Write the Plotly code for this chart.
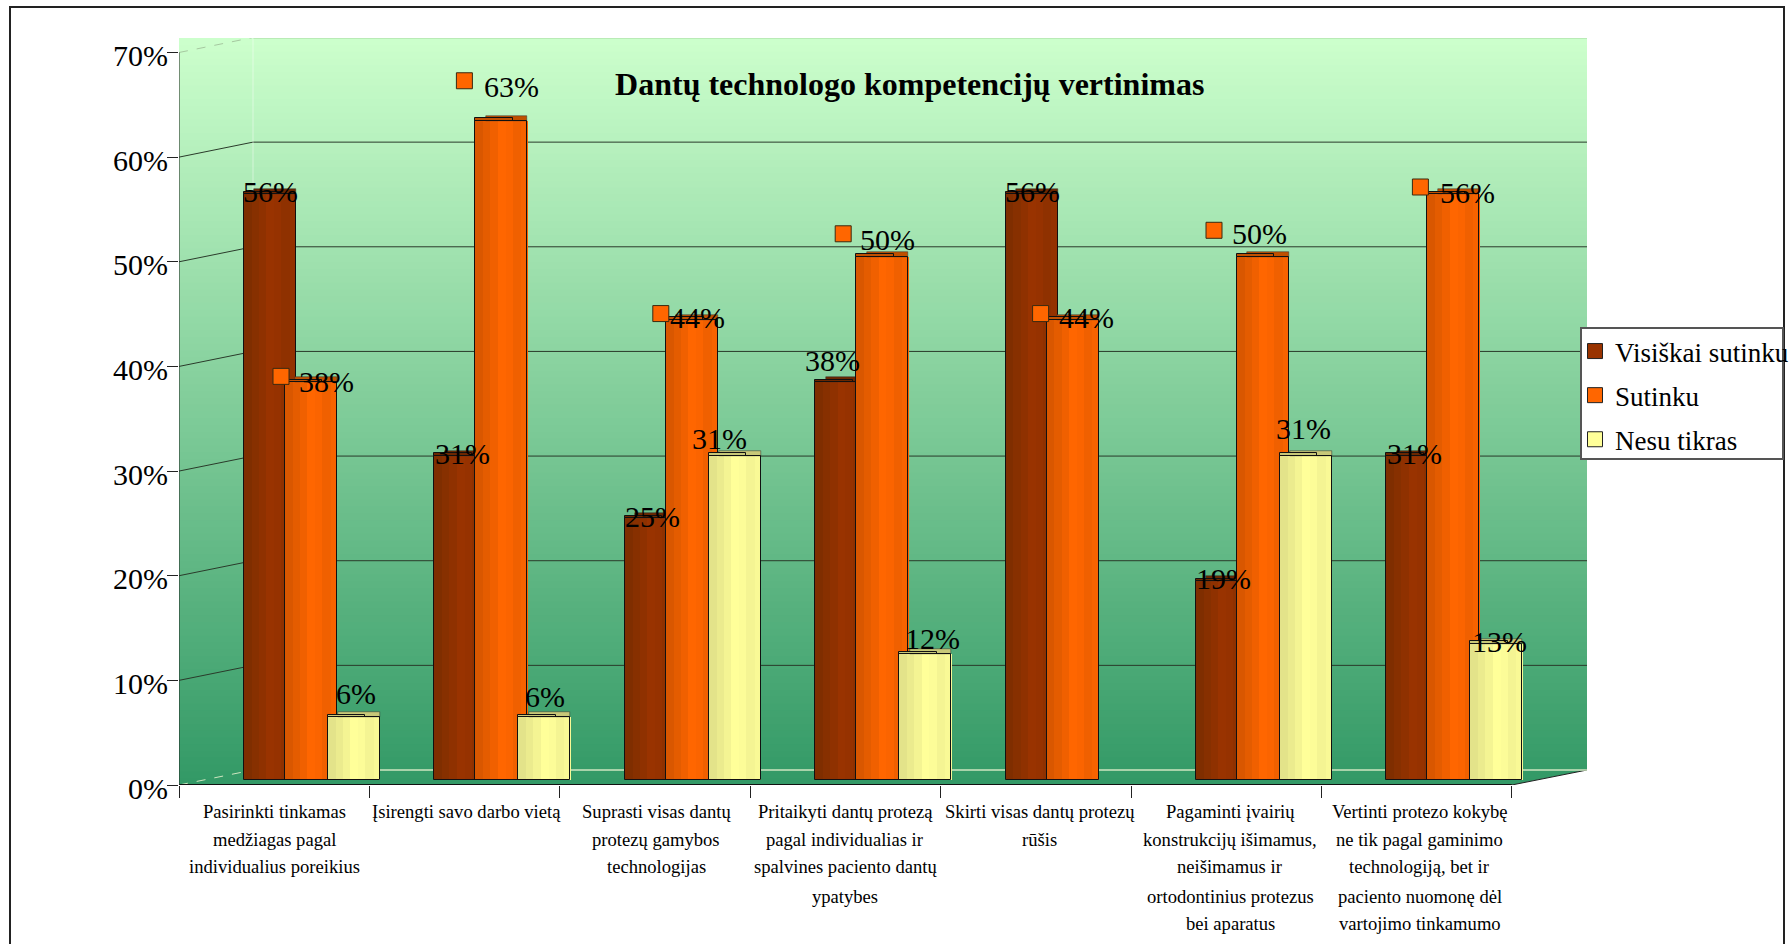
import plotly.graph_objects as go

# ---------- data ----------
CATEGORIES = [
    ["Pasirinkti tinkamas", "medžiagas pagal", "individualius poreikius"],
    ["Įsirengti savo darbo vietą"],
    ["Suprasti visas dantų", "protezų gamybos", "technologijas"],
    ["Pritaikyti dantų protezą", "pagal individualias ir", "spalvines paciento dantų", "ypatybes"],
    ["Skirti visas dantų protezų", "rūšis"],
    ["Pagaminti įvairių", "konstrukcijų išimamus,", "neišimamus ir", "ortodontinius protezus", "bei aparatus"],
    ["Vertinti protezo kokybę", "ne tik pagal gaminimo", "technologiją, bet ir", "paciento nuomonę dėl", "vartojimo tinkamumo"],
]
VISISKAI = [56, 31, 25, 38, 56, 19, 31]
SUTINKU = [38, 63, 44, 50, 44, 50, 56]
NESU = [6, 6, 31, 12, None, 31, 13]
TITLE = "Dantų technologo kompetencijų vertinimas"
YTICKS = [0, 10, 20, 30, 40, 50, 60, 70]

# label offsets from the bar's top centre, in pixels (right, up)
VIS_DX = [0, 2, 2, -9, 1, 1, 2]
VIS_DY = [2.5, 2, 1.5, 22, 2.5, 2.5, 2]
SUT_DX = [15, 10, 6, 5.5, 13.6, -3.3, 14]
SUT_DY = [0.5, 34, 2, 17.4, 2, 23, 1.4]
SUT_KEY_DX = [-30, -37, -31, -39, -32, -49, -33]
SUT_KEY_DY = [6, 40, 6, 23, 6, 26.5, 7]
NES_DX = [2, 1, -15, 7, 0, -3, 3]
NES_DY = [23.5, 21, 17, 15.5, 0, 27, 2]

# ---------- layout constants ----------
W, H = 1789, 944
L, R, T, B = 179, 1587, 38, 785      # plot-area pixels
CAT_PX = 190.4
PCT_PX = (785 - 52.5) / 70
XMAX = (R - L) / CAT_PX
YMAX = (B - T) / PCT_PX
BACK_X = (253 - L) / CAT_PX
BACK_Y = 15 / PCT_PX
DEPTH = 5 / PCT_PX
CAP = 5 / PCT_PX
FONT = "Liberation Serif"

BAR_W = 52 / CAT_PX
SERIES = [
    dict(name="Visiškai sutinku", vals=VISISKAI, left=65 / CAT_PX, dark=(0x7F, 0x2E, 0x00), bright=(0x99, 0x33, 0x00),
         cap="#6B2700", dx=VIS_DX, dy=VIS_DY, legend="#993300"),
    dict(name="Sutinku", vals=SUTINKU, left=106 / CAT_PX, dark=(0xD9, 0x57, 0x00), bright=(0xFF, 0x66, 0x00),
         cap="#C05000", dx=SUT_DX, dy=SUT_DY, legend="#FF6600"),
    dict(name="Nesu tikras", vals=NESU, left=149 / CAT_PX, dark=(0xE3, 0xE3, 0x8A), bright=(0xFF, 0xFF, 0x99),
         cap="#C8C878", dx=NES_DX, dy=NES_DY, legend="#FFFF99"),
]
STRIPS = [(0.00, 0.15, 0.0), (0.15, 0.29, 0.3), (0.29, 0.43, 0.6), (0.43, 0.58, 1.0), (0.58, 0.72, 0.9),
          (0.72, 0.88, 0.6), (0.88, 1.00, 0.8)]


def mix(a, b, t):
    return "rgb(%d,%d,%d)" % tuple(round(a[i] + (b[i] - a[i]) * t) for i in range(3))


fig = go.Figure()
idx = list(range(len(CATEGORIES)))

for s in SERIES:
    present = [v for v in s["vals"]]
    for f0, f1, t in STRIPS:
        fig.add_trace(go.Bar(x=idx, y=present, base=DEPTH, width=(f1 - f0) * BAR_W + 0.002,
                             offset=s["left"] + f0 * BAR_W, marker=dict(color=mix(s["dark"], s["bright"], t), line_width=0),
                             showlegend=False, hoverinfo="skip"))
    # top cap, two steps
    caps = [None if v is None else v + DEPTH for v in s["vals"]]
    fig.add_trace(go.Bar(x=idx, y=[None if v is None else CAP for v in s["vals"]], base=caps,
                         width=0.80 * BAR_W, offset=s["left"] + 0.20 * BAR_W,
                         marker=dict(color=s["cap"], line=dict(color="#333", width=0.5)), showlegend=False, hoverinfo="skip"))
    fig.add_trace(go.Bar(x=idx, y=[None if v is None else CAP * 0.5 for v in s["vals"]], base=caps,
                         width=0.72 * BAR_W, offset=s["left"],
                         marker=dict(color=s["cap"], line=dict(color="#111", width=1)), showlegend=False, hoverinfo="skip"))
    # outline
    fig.add_trace(go.Bar(x=idx, y=s["vals"], base=DEPTH,
                         width=BAR_W, offset=s["left"],
                         marker=dict(color="rgba(0,0,0,0)", line=dict(color="#111", width=1)),
                         showlegend=False, hoverinfo="skip"))

# value-label keys on the Sutinku series
sut = SERIES[1]
fig.add_trace(go.Scatter(
    x=[i + sut["left"] + BAR_W / 2 + SUT_KEY_DX[i] / CAT_PX for i in idx],
    y=[SUTINKU[i] + DEPTH + SUT_KEY_DY[i] / PCT_PX for i in idx],
    mode="markers", marker=dict(symbol="square", size=16, color="#FF6600", line=dict(color="#3A2A10", width=1)),
    showlegend=False, hoverinfo="skip"))

# legend entries
for s in SERIES:
    fig.add_trace(go.Scatter(x=[None], y=[None], mode="markers", name=s["name"], legendgroup=s["name"],
                             marker=dict(symbol="square", size=15, color=s["legend"], line=dict(color="#222", width=1))))

shapes = []
# background gradient
N = 110
top, bottom = (0xCC, 0xFF, 0xCC), (0x33, 0x99, 0x66)
for k in range(N):
    t = k / (N - 1)
    shapes.append(dict(type="rect", layer="below", xref="x", yref="y", x0=0, x1=XMAX,
                       y0=0, y1=YMAX * (1 - k / N), line_width=0, fillcolor=mix(top, bottom, t)))
# white corner under the floor, right side
shapes.append(dict(type="path", layer="below", xref="x", yref="y",
                   path=f"M 7,0 L {XMAX},{BACK_Y} L {XMAX},0 Z", fillcolor="white", line_width=0))
shapes.append(dict(type="line", layer="below", xref="x", yref="y", x0=7, x1=XMAX, y0=0, y1=BACK_Y,
                   line=dict(color="#222", width=1)))
# walls and grid
for v in YTICKS:
    if v == 0:
        col, wid, dash = "#CFE6C0", 1.5, "solid"
        dcol, ddash = "#CFE6C0", "dash"
    elif v == 70:
        col, wid, dash = "#A6D8A0", 2, "solid"
        dcol, ddash = "#A6C8A0", "dash"
    else:
        col, wid, dash = "#2A3A2A", 1, "solid"
        dcol, ddash = "#2A3A2A", "solid"
    shapes.append(dict(type="line", layer="below", xref="x", yref="y", x0=BACK_X, x1=XMAX, y0=v + BACK_Y, y1=v + BACK_Y,
                       line=dict(color=col, width=wid, dash=dash)))
    shapes.append(dict(type="line", layer="below", xref="x", yref="y", x0=0, x1=BACK_X, y0=v, y1=v + BACK_Y,
                       line=dict(color=dcol, width=1, dash=ddash)))
shapes.append(dict(type="line", layer="below", xref="x", yref="y", x0=BACK_X, x1=BACK_X, y0=BACK_Y, y1=70 + BACK_Y,
                   line=dict(color="rgba(255,255,255,0.45)", width=1)))
# base line of the chart
shapes.append(dict(type="line", xref="x", yref="y", x0=0, x1=7, y0=0, y1=0, line=dict(color="#111", width=2)))
# outer frame
shapes.append(dict(type="rect", xref="paper", yref="paper", layer="above",
                   x0=(10 - L) / (R - L), x1=(1784 - L) / (R - L),
                   y0=(B - 960) / (B - T), y1=(B - 7) / (B - T),
                   line=dict(color="#222", width=2), fillcolor="rgba(0,0,0,0)"))
# legend box
shapes.append(dict(type="rect", xref="paper", yref="paper", layer="above",
                   x0=(1581 - L) / (R - L), x1=(1783 - L) / (R - L),
                   y0=(B - 459) / (B - T), y1=(B - 328) / (B - T),
                   line=dict(color="#555", width=2), fillcolor="white"))

ann = []
for s in SERIES:
    for i in idx:
        v = s["vals"][i]
        if v is None:
            continue
        ann.append(dict(x=i + s["left"] + BAR_W / 2, y=v + DEPTH, xref="x", yref="y", text=f"{v}%", showarrow=False,
                        xshift=s["dx"][i], yshift=s["dy"][i], xanchor="center", yanchor="middle",
                        font=dict(family=FONT, size=30, color="black")))
LABEL_SHIFT = [0, 2, 1, 0, 4, 4, 3]
ROW_PX = [26, 54, 81, 111, 138]
for i, lines in enumerate(CATEGORIES):
    for r, line in enumerate(lines):
        ann.append(dict(x=i + 0.5, y=0, xref="x", yref="paper", text=line, showarrow=False, xshift=LABEL_SHIFT[i],
                        yshift=-ROW_PX[r], xanchor="center", yanchor="middle",
                        font=dict(family=FONT, size=18.6, color="black")))

fig.update_layout(
    width=W, height=H, autosize=False,
    margin=dict(l=L, r=W - R, t=T, b=H - B, pad=0, autoexpand=False),
    paper_bgcolor="white", plot_bgcolor="rgba(0,0,0,0)",
    barmode="overlay", bargap=0,
    title=dict(text=TITLE, x=928.5 / W, xref="paper", xanchor="center", y=1 - 83.5 / H, yref="container", yanchor="middle",
               font=dict(family=FONT, size=32, color="black", weight="bold")),
    xaxis=dict(range=[0, XMAX], tickmode="array", tickvals=list(range(8)), ticktext=[""] * 8, ticks="outside",
               ticklen=12, tickcolor="#222", tickwidth=1, showgrid=False, zeroline=False, showline=False),
    yaxis=dict(range=[0, YMAX], tickmode="array", tickvals=YTICKS, ticktext=[f"{v}%" for v in YTICKS],
               ticks="outside", ticklen=11, ticklabelstandoff=-7, ticklabelshift=3,
               tickcolor="#222", tickwidth=1, showgrid=False, zeroline=False, showline=False,
               tickfont=dict(family=FONT, size=30, color="black")),
    shapes=shapes, annotations=ann,
    legend=dict(x=(1575 - L) / (R - L), xanchor="left", y=(B - 327) / (B - T), yanchor="top", bgcolor="rgba(0,0,0,0)",
                borderwidth=0, font=dict(family=FONT, size=27, color="black"),
                tracegroupgap=6, traceorder="grouped", itemclick=False, itemdoubleclick=False,
                entrywidth=174, entrywidthmode="pixels"),
)
# y axis line drawn as a shape up to the 70% tick
fig.add_shape(type="line", xref="x", yref="y", x0=0, x1=0, y0=0, y1=70, line=dict(color="#222", width=1))

fig.write_html("out.html", config=dict(displayModeBar=False),
               post_script="document.body.style.margin='0';document.documentElement.style.overflow='hidden';")
